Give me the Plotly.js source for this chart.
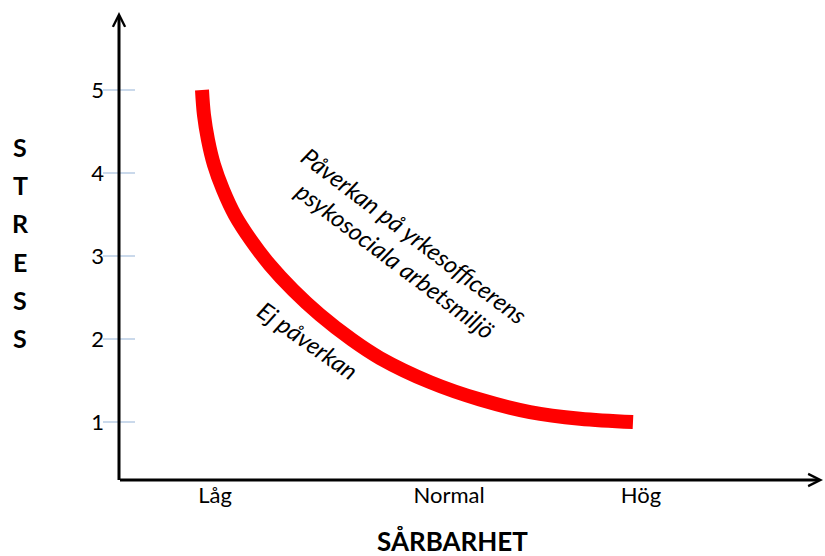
<!DOCTYPE html>
<html>
<head>
<meta charset="utf-8">
<script src="https://cdn.plot.ly/plotly-3.0.1.min.js"></script>
<style>html,body{margin:0;padding:0;background:#fff;}#chart{width:825px;height:556px;}</style>
</head>
<body>
<div id="chart"></div>
<script>
// Data
const stressTicks = [1, 2, 3, 4, 5];
const xTickVals = [1.364, 4.688, 7.415];
const xTickText = ['Låg', 'Normal', 'Hög'];
const curveX = [1.179, 1.207, 1.264, 1.349, 1.477, 1.648, 1.875, 2.145, 2.472, 2.855, 3.310, 3.707, 4.418, 5.128, 5.838, 6.548, 7.301];
const curveY = [5.00, 4.70, 4.40, 4.10, 3.80, 3.49, 3.19, 2.89, 2.59, 2.29, 1.99, 1.77, 1.48, 1.27, 1.12, 1.04, 1.00];
const yLetters = ['S', 'T', 'R', 'E', 'S', 'S'];

const FONT = 'Lato, "Open Sans", sans-serif';

const trace = {
  x: curveX, y: curveY, type: 'scatter', mode: 'lines',
  line: {color: '#ff0000', width: 14, shape: 'spline', smoothing: 1},
  hoverinfo: 'skip', showlegend: false
};

const shapes = stressTicks.map(v => ({
  type: 'line', xref: 'paper', yref: 'y',
  x0: -0.0228, x1: 0.0228, y0: v, y1: v,
  line: {color: '#95b3d7', width: 1.2}
}));

const annotations = [
  // y axis arrow
  {xref: 'paper', yref: 'paper', x: 0, y: 1, ax: 0, ay: 469.5, axref: 'pixel', ayref: 'pixel',
   showarrow: true, arrowhead: 5, arrowwidth: 3, arrowsize: 0.8, arrowcolor: '#000', text: '', standoff: 0},
  // x axis arrow
  {xref: 'paper', yref: 'paper', x: 1, y: 0, ax: -704.5, ay: 0, axref: 'pixel', ayref: 'pixel',
   showarrow: true, arrowhead: 5, arrowwidth: 3, arrowsize: 0.8, arrowcolor: '#000', text: '', standoff: 0},
  {xref: 'paper', yref: 'paper', x: 0.474, y: -0.130, text: '<b>SÅRBARHET</b>', showarrow: false,
   xanchor: 'center', yanchor: 'middle', font: {family: FONT, size: 26, color: '#000'}},
  {xref: 'x', yref: 'y', x: 4.07, y: 3.10,
   text: '<i>Påverkan på yrkesofficerens<br>psykosociala arbetsmiljö</i>', showarrow: false,
   textangle: 37, xanchor: 'center', yanchor: 'middle', font: {family: FONT, size: 24, color: '#000'}},
  {xref: 'x', yref: 'y', x: 2.69, y: 1.98, text: '<i>Ej påverkan</i>', showarrow: false,
   textangle: 35, xanchor: 'center', yanchor: 'middle', font: {family: FONT, size: 24, color: '#000'}}
];

yLetters.forEach((ch, i) => {
  annotations.push({xref: 'paper', yref: 'paper', x: (20 - 119) / 704, y: (480 - (147 + i * 38.2)) / 468,
    text: '<b>' + ch + '</b>', showarrow: false, xanchor: 'center', yanchor: 'middle',
    font: {family: FONT, size: 25, color: '#000'}});
});

const layout = {
  width: 825, height: 556,
  margin: {l: 119, r: 2, t: 12, b: 76},
  paper_bgcolor: '#fff', plot_bgcolor: '#fff',
  xaxis: {range: [0, 10], showgrid: false, zeroline: false, showline: false,
    tickvals: xTickVals, ticktext: xTickText, ticks: '',
    tickfont: {family: FONT, size: 22, color: '#000'}},
  yaxis: {range: [0.301, 5.94], showgrid: false, zeroline: false, showline: false,
    tickvals: stressTicks, ticks: '', ticklabelstandoff: 14,
    tickfont: {family: FONT, size: 22, color: '#000'}},
  shapes: shapes,
  annotations: annotations
};

Plotly.newPlot('chart', [trace], layout, {displayModeBar: false, staticPlot: true});
</script>
</body>
</html>
